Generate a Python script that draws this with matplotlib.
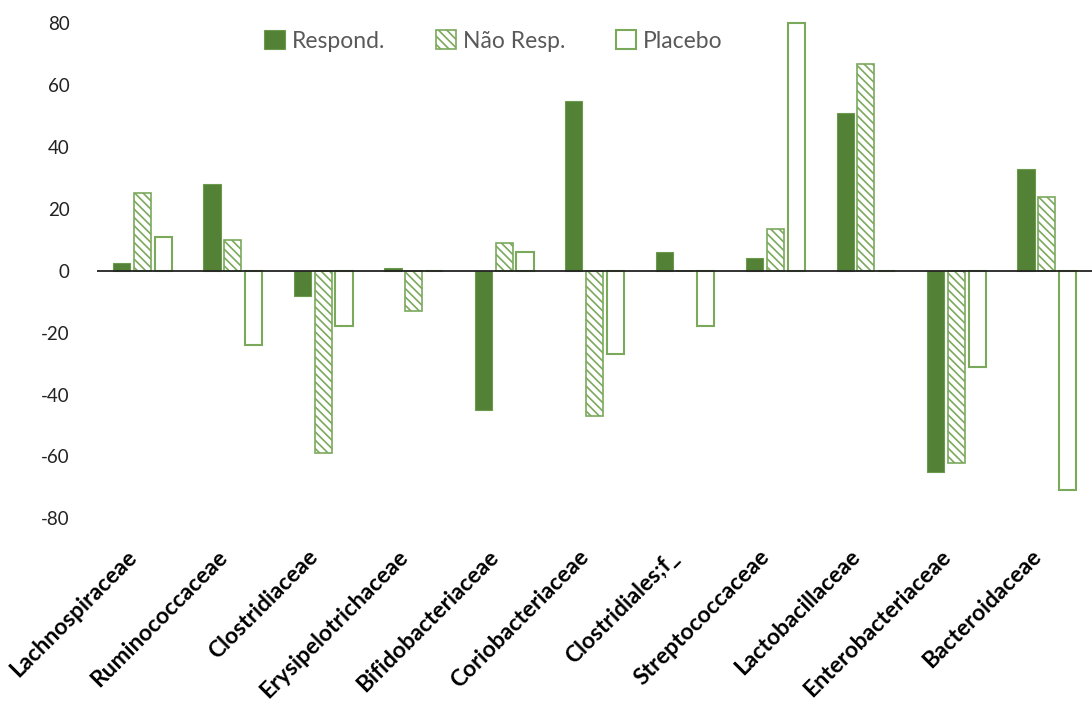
import numpy as np
import matplotlib
matplotlib.use("Agg")
import matplotlib.pyplot as plt
from matplotlib.transforms import ScaledTranslation

categories = ["Lachnospiraceae", "Ruminococcaceae", "Clostridiaceae", "Erysipelotrichaceae",
              "Bifidobacteriaceae", "Coriobacteriaceae", "Clostridiales;f_", "Streptococcaceae",
              "Lactobacillaceae", "Enterobacteriaceae", "Bacteroidaceae"]
respond = [2.5, 28, -8, 1, -45, 55, 6, 4, 51, -65, 33]
nao_resp = [25, 10, -59, -13, 9, -47, 0, 13.5, 67, -62, 24]
placebo = [11, -24, -18, 0, 6, -27, -18, 80, 0, -31, -71]
series_names = ["Respond.", "Não Resp.", "Placebo"]

plt.rcParams["font.family"] = ["Lato", "DejaVu Sans"]
plt.rcParams["hatch.linewidth"] = 1.2
plt.rcParams["axes.unicode_minus"] = False

dark = "#538135"
light = "#7aa95c"

fig = plt.figure(figsize=(10.92, 7.07), dpi=100)
ax = fig.add_axes([0.089, 0.267, 0.911, 0.70])

x = np.arange(len(categories))
w = 0.19
step = 0.23

b1 = ax.bar(x - step, respond, w, color=dark, edgecolor="#6b9a4d", linewidth=0.8, clip_on=False)
b2 = ax.bar(x, nao_resp, w, color="white", edgecolor=light, hatch="\\\\\\\\", linewidth=1.2, clip_on=False)
b3 = ax.bar(x + step, placebo, w, color="white", edgecolor=light, linewidth=1.5, clip_on=False)

ax.set_xlim(-0.5, len(categories) - 0.5)
ax.set_ylim(-80, 80)
ax.set_yticks(np.arange(-80, 81, 20))
ax.tick_params(axis="y", length=0, pad=20, labelsize=13.5, labelcolor="#222222")
ax.tick_params(axis="x", length=0, pad=20)
for s in ["top", "right", "left", "bottom"]:
    ax.spines[s].set_visible(False)
ax.axhline(0, color="#222222", linewidth=1.3, zorder=3)

ax.set_xticks(x)
ax.set_xticklabels(categories, rotation=45, ha="right", rotation_mode="anchor",
                   fontsize=16.5, fontweight="bold", color="black")
shift = ScaledTranslation(-12 / 72, 0, fig.dpi_scale_trans)
for lbl in ax.get_xticklabels():
    lbl.set_transform(lbl.get_transform() + shift)

leg = fig.legend([b1, b2, b3], series_names, loc="center", bbox_to_anchor=(0.452, 0.942),
                 ncol=3, frameon=False, fontsize=16.5, handlelength=0.9, handleheight=0.9,
                 handletextpad=0.3, columnspacing=2.2)
for t in leg.get_texts():
    t.set_color("#595959")

fig.savefig("out.png", dpi=100)
